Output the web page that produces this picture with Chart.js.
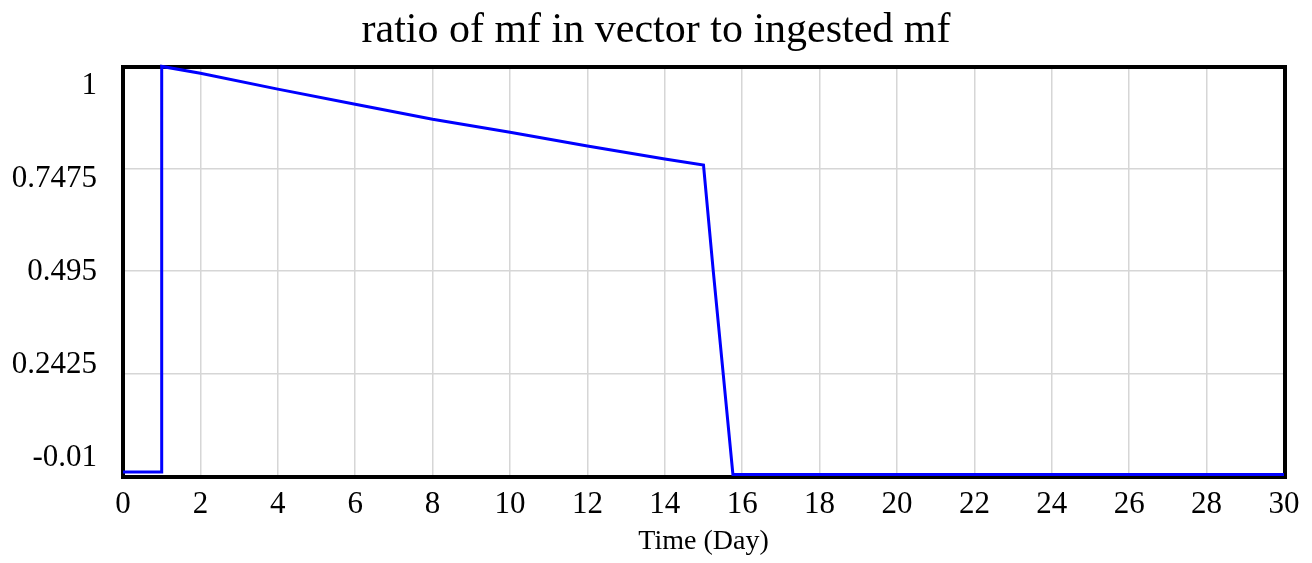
<!DOCTYPE html>
<html>
<head>
<meta charset="utf-8">
<title>ratio of mf in vector to ingested mf</title>
<script src="https://cdn.jsdelivr.net/npm/chart.js@4.4.1/dist/chart.umd.min.js"></script>
<style>
    html, body { margin: 0; padding: 0; background: #fff; }
    #chart_container { width: 1312px; height: 563px; }
</style>
</head>
<body>
<div id="chart_container"><canvas id="myChart" width="1312" height="563"></canvas></div>
<script>
const chartTitle = "ratio of mf in vector to ingested mf";
const xAxisTitle = "Time (Day)";

// run output, read at the breakpoints of the curve
const days  = [0, 1, 1,     2,     4,     6,     8,     10,    12,    14,    15,    15.25, 15.5,  15.76,  30];
const ratio = [0, 0, 0.999, 0.982, 0.943, 0.906, 0.869, 0.837, 0.803, 0.771, 0.756, 0.497, 0.251, -0.006, -0.006];

const xTicks = [0, 2, 4, 6, 8, 10, 12, 14, 16, 18, 20, 22, 24, 26, 28, 30];
const yTicks = [-0.01, 0.2425, 0.495, 0.7475, 1];
const yTickLabels = ["-0.01", "0.2425", "0.495", "0.7475", "1"];

const serif = "'Liberation Serif', 'Times New Roman', serif";
Chart.defaults.font.family = serif;
Chart.defaults.color = "#000";

// black box round the plot area, drawn under the line
const framePlugin = {
    id: "frame",
    beforeDatasetsDraw(chart) {
        const { ctx, chartArea: a } = chart;
        ctx.save();
        ctx.strokeStyle = "#000";
        ctx.lineWidth = 4;
        ctx.strokeRect(a.left, a.top + 1, a.right - a.left + 1, a.bottom - a.top);
        ctx.restore();
    }
};

const setTicks = (values) => (scale) => {
    scale.ticks = values.map(v => ({ value: v }));
};

const ctx = document.getElementById("myChart").getContext("2d");
const chart = new Chart(ctx, {
    type: "line",
    data: {
        datasets: [{
            label: chartTitle,
            data: days.map((d, i) => ({ x: d, y: ratio[i] })),
            borderColor: "#0000ff",
            backgroundColor: "#0000ff",
            borderWidth: 3,
            pointRadius: 0,
            tension: 0,
            fill: false,
            clip: 6,
            yAxisID: "y"
        }]
    },
    plugins: [framePlugin],
    options: {
        responsive: false,
        animation: false,
        layout: { padding: 0 },
        plugins: {
            legend: { display: false },
            tooltip: { enabled: false },
            title: {
                display: true,
                text: chartTitle,
                color: "#000",
                font: { family: serif, size: 42, weight: "normal" },
                padding: { top: 6, bottom: 9.6 }
            }
        },
        scales: {
            x: {
                type: "linear",
                min: 0,
                max: 30,
                afterBuildTicks: setTicks(xTicks),
                afterFit: (s) => { s.height = 87; },
                ticks: {
                    font: { size: 31 },
                    color: "#000",
                    padding: 10,
                    maxRotation: 0,
                    autoSkip: false
                },
                grid: { color: "#d6d6d6", lineWidth: 1.5, drawTicks: false },
                border: { display: false },
                title: {
                    display: true,
                    text: xAxisTitle,
                    color: "#000",
                    font: { size: 28 },
                    padding: { top: 0, bottom: 5 }
                }
            },
            // grid lines only
            y: {
                type: "linear",
                position: "left",
                weight: 0,
                min: -0.01,
                max: 1,
                afterBuildTicks: setTicks(yTicks),
                afterFit: (s) => { s.width = 0; },
                ticks: { display: false },
                grid: { color: "#d6d6d6", lineWidth: 1.5, drawTicks: false },
                border: { display: false }
            },
            // tick labels, spread a little inside the frame
            yLabels: {
                type: "linear",
                position: "left",
                weight: 1,
                min: -0.0589,
                max: 1.0543,
                afterBuildTicks: setTicks(yTicks),
                afterFit: (s) => { s.width = 123; },
                ticks: {
                    font: { size: 31 },
                    color: "#000",
                    padding: 26,
                    autoSkip: false,
                    callback: (v, i) => yTickLabels[i]
                },
                grid: { display: false, drawTicks: false },
                border: { display: false }
            },
            // empty margin on the right of the frame
            yRight: {
                type: "linear",
                position: "right",
                min: 0,
                max: 1,
                afterFit: (s) => { s.width = 28; },
                ticks: { display: false },
                grid: { display: false, drawTicks: false },
                border: { display: false }
            }
        }
    }
});
</script>
</body>
</html>
